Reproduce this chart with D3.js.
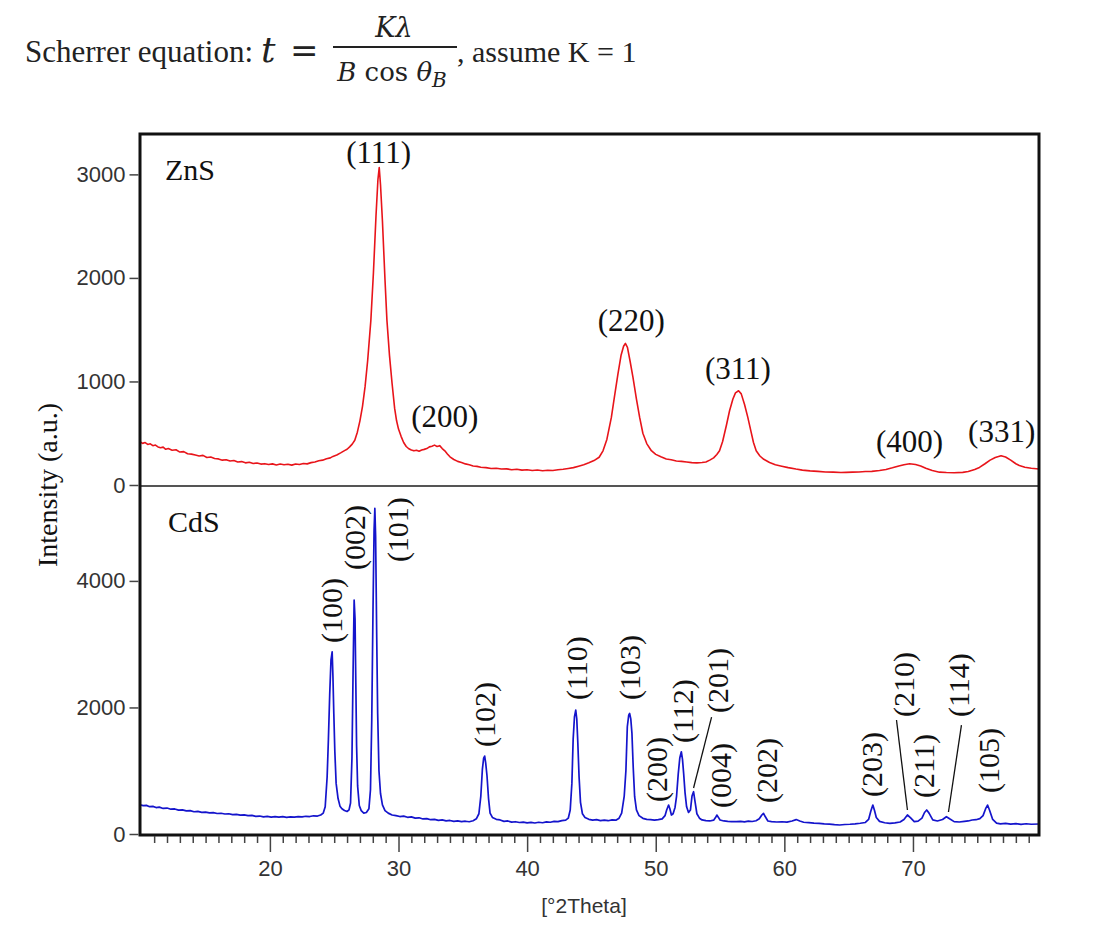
<!DOCTYPE html>
<html>
<head>
<meta charset="utf-8">
<script src="https://cdn.jsdelivr.net/npm/d3@7"></script>
<style>
  html, body { margin: 0; padding: 0; background: #fff; }
  svg { display: block; }
</style>
</head>
<body>
<svg id="chart" width="1104" height="932"></svg>
<script>
// ---------------- DATA ----------------
const xTicks = [20, 30, 40, 50, 60, 70];
const znsTicks = [0, 1000, 2000, 3000];
const cdsTicks = [0, 2000, 4000];

// ZnS pattern: [2theta, intensity]
const znsPattern = [[9.9,418],[10.1,402],[10.3,410],[10.5,392],[10.7,398],[10.9,380],[11.1,386],[11.3,368],[11.5,360],[11.7,366],[11.9,345],[12.1,352],[12.4,336],[12.7,340],[13.0,318],[13.3,322],[13.6,302],[13.9,298],[14.2,290],[14.5,280],[14.8,286],[15.1,266],[15.4,270],[15.7,256],[16.0,252],[16.3,240],[16.6,244],[16.9,232],[17.2,236],[17.5,222],[17.8,226],[18.1,214],[18.4,220],[18.7,208],[19.0,212],[19.3,202],[19.6,206],[19.9,198],[20.2,204],[20.5,194],[20.8,202],[21.1,196],[21.4,200],[21.7,192],[22.0,203],[22.3,198],[22.6,208],[22.9,204],[23.2,216],[23.5,222],[23.8,234],[24.1,240],[24.4,254],[24.7,262],[24.9,276],[25.2,290],[25.5,310],[25.8,332],[26.0,345],[26.2,368],[26.4,395],[26.6,432],[26.8,510],[27.0,620],[27.2,760],[27.4,950],[27.6,1200],[27.85,1590],[28.05,2050],[28.25,2600],[28.4,2950],[28.5,3066],[28.6,2900],[28.75,2550],[28.95,1980],[29.1,1590],[29.3,1250],[29.5,980],[29.7,740],[29.85,620],[30.0,540],[30.2,470],[30.4,410],[30.6,372],[30.8,350],[31.0,338],[31.2,330],[31.4,335],[31.6,326],[31.8,338],[32.0,344],[32.2,352],[32.4,368],[32.6,374],[32.8,385],[33.0,372],[33.2,380],[33.4,352],[33.6,330],[33.8,300],[34.0,272],[34.3,246],[34.6,228],[34.9,218],[35.2,204],[35.5,196],[35.8,184],[36.1,180],[36.4,172],[36.8,168],[37.2,160],[37.6,162],[38.0,154],[38.4,156],[38.8,148],[39.2,152],[39.6,144],[40.0,148],[40.4,140],[40.8,145],[41.2,138],[41.6,142],[42.0,140],[42.4,148],[42.8,152],[43.2,160],[43.6,168],[44.0,182],[44.4,196],[44.8,214],[45.2,236],[45.6,268],[45.9,330],[46.2,440],[46.55,653],[46.8,860],[47.06,1071],[47.3,1250],[47.5,1340],[47.64,1367],[47.8,1330],[48.0,1200],[48.23,1039],[48.5,830],[48.75,653],[49.0,500],[49.3,400],[49.66,331],[50.0,296],[50.4,272],[50.82,251],[51.2,244],[51.6,232],[52.0,228],[52.4,222],[52.8,216],[53.2,214],[53.6,218],[53.9,222],[54.2,240],[54.5,262],[54.75,295],[54.96,331],[55.2,420],[55.5,580],[55.74,717],[56.0,830],[56.2,890],[56.44,910],[56.65,880],[56.9,780],[57.16,653],[57.4,520],[57.6,410],[57.81,331],[58.1,280],[58.4,248],[58.85,218],[59.3,196],[59.8,182],[60.3,168],[60.9,154],[61.4,144],[62.0,136],[62.6,132],[63.2,126],[63.8,124],[64.4,120],[64.8,122],[65.3,124],[65.8,126],[66.3,130],[66.8,132],[67.4,140],[67.9,150],[68.4,166],[68.9,184],[69.3,196],[69.74,205],[70.2,198],[70.6,184],[71.0,162],[71.5,140],[72.06,124],[72.6,120],[73.2,118],[73.87,122],[74.3,130],[74.8,150],[75.17,170],[75.6,205],[76.0,240],[76.4,266],[76.85,283],[77.2,270],[77.6,240],[78.0,205],[78.27,188],[78.7,172],[79.2,162],[79.8,154]];

// CdS pattern: [2theta, intensity]
const cdsPattern = [[9.9,462],[10.15,448],[10.4,452],[10.65,432],[10.9,436],[11.15,418],[11.4,424],[11.7,404],[12.0,410],[12.3,392],[12.6,396],[12.9,378],[13.2,382],[13.5,366],[13.8,370],[14.1,352],[14.4,358],[14.7,342],[15.0,346],[15.3,334],[15.6,338],[15.9,324],[16.2,328],[16.5,316],[16.8,320],[17.1,306],[17.4,310],[17.7,298],[18.0,302],[18.3,290],[18.6,294],[18.9,278],[19.2,284],[19.5,270],[19.8,278],[20.1,268],[20.4,276],[20.7,266],[21.0,274],[21.3,264],[21.6,272],[21.9,266],[22.2,276],[22.5,270],[22.8,280],[23.1,276],[23.4,288],[23.7,284],[23.95,300],[24.15,330],[24.3,430],[24.45,900],[24.55,1500],[24.65,2200],[24.75,2750],[24.84,2880],[24.9,2500],[24.97,1900],[25.05,1300],[25.15,800],[25.3,560],[25.45,440],[25.6,400],[25.8,372],[26.0,356],[26.15,380],[26.27,490],[26.38,1200],[26.47,2600],[26.55,3697],[26.62,3400],[26.68,2400],[26.74,1400],[26.82,760],[26.95,450],[27.1,370],[27.3,330],[27.5,340],[27.7,400],[27.82,700],[27.92,1800],[28.02,3600],[28.1,4800],[28.16,5145],[28.22,4700],[28.3,3200],[28.38,1900],[28.48,1000],[28.6,640],[28.75,460],[28.95,370],[29.2,330],[29.5,300],[29.8,290],[30.1,276],[30.4,282],[30.7,264],[31.0,270],[31.3,250],[31.6,256],[31.9,238],[32.2,244],[32.5,226],[32.8,232],[33.1,216],[33.4,222],[33.7,208],[34.0,214],[34.3,200],[34.6,208],[34.9,196],[35.2,202],[35.5,194],[35.8,210],[36.05,240],[36.25,320],[36.4,600],[36.52,1020],[36.62,1200],[36.7,1232],[36.78,1120],[36.88,920],[37.0,560],[37.12,330],[37.3,262],[37.6,232],[37.9,222],[38.2,200],[38.5,206],[38.8,188],[39.1,194],[39.4,182],[39.7,188],[40.0,176],[40.3,184],[40.6,174],[40.9,186],[41.2,178],[41.5,192],[41.8,186],[42.1,200],[42.4,196],[42.7,212],[43.0,218],[43.2,250],[43.35,380],[43.48,800],[43.58,1500],[43.68,1850],[43.78,1959],[43.86,1820],[43.94,1450],[44.04,900],[44.15,500],[44.3,320],[44.5,260],[44.8,232],[45.1,220],[45.4,226],[45.7,212],[46.0,220],[46.3,210],[46.6,222],[46.9,218],[47.15,250],[47.35,330],[47.55,600],[47.68,1000],[47.79,1695],[47.9,1880],[47.97,1906],[48.06,1820],[48.15,1590],[48.25,1050],[48.36,590],[48.5,380],[48.7,290],[49.0,248],[49.3,232],[49.6,226],[49.9,218],[50.2,228],[50.5,240],[50.72,290],[50.85,380],[51.0,458],[51.1,400],[51.22,300],[51.35,320],[51.5,420],[51.62,600],[51.75,950],[51.87,1200],[51.99,1300],[52.08,1180],[52.17,958],[52.28,650],[52.4,430],[52.55,340],[52.7,380],[52.82,600],[52.94,668],[53.05,520],[53.2,320],[53.4,250],[53.6,222],[53.9,212],[54.2,206],[54.5,218],[54.65,260],[54.75,300],[54.85,270],[55.0,222],[55.3,206],[55.6,200],[55.9,196],[56.26,195],[56.6,200],[56.9,192],[57.2,204],[57.5,198],[57.8,210],[58.05,240],[58.25,300],[58.38,327],[58.5,280],[58.72,205],[59.0,196],[59.4,190],[59.8,194],[60.2,188],[60.6,205],[60.92,228],[61.2,206],[61.5,186],[61.9,180],[62.3,172],[62.7,169],[63.1,160],[63.5,156],[63.9,148],[64.3,142],[64.7,150],[65.1,154],[65.5,160],[65.9,170],[66.3,182],[66.55,230],[66.72,360],[66.88,458],[67.0,380],[67.15,260],[67.4,200],[67.8,178],[68.2,169],[68.6,176],[69.0,190],[69.3,230],[69.57,300],[69.8,260],[70.1,196],[70.4,204],[70.7,250],[70.9,340],[71.07,379],[71.25,330],[71.54,222],[71.9,206],[72.3,230],[72.6,273],[72.85,240],[73.2,196],[73.6,190],[74.0,200],[74.3,206],[74.6,221],[74.9,226],[75.2,242],[75.45,290],[75.65,400],[75.8,458],[75.95,380],[76.2,230],[76.5,172],[76.8,160],[77.2,168],[77.6,156],[78.0,164],[78.4,152],[78.8,162],[79.2,154],[79.8,158]];

// ZnS reflection labels: hkl, 2theta (centre), intensity (baseline of text)
const znsHkl   = ["(111)", "(200)", "(220)", "(311)", "(400)", "(331)"];
const znsHklT  = [28.45, 33.6, 48.1, 56.39, 69.73, 76.9];
const znsHklI  = [3111, 556, 1489, 1023, 315, 411];

// CdS reflection labels (vertical): hkl, 2theta (centre), intensity (start of text)
const cdsHkl  = ["(100)", "(002)", "(101)", "(102)", "(110)", "(103)", "(200)", "(112)", "(201)", "(004)", "(202)", "(203)", "(210)", "(211)", "(114)", "(105)"];
const cdsHklT = [24.82, 26.6, 29.95, 36.7, 43.85, 47.97, 50.07, 52.09, 54.81, 55.12, 58.62, 66.85, 69.34, 70.89, 73.61, 75.94];
const cdsHklI = [3017, 4171, 4297, 1374, 2117, 2117, 505, 1437, 1911, 411, 490, 585, 1848, 569, 1848, 648];

// leader lines from labels to peaks: [t1, i1, t2, i2]
const cdsLeaders = [[54.34, 1848, 52.94, 727], [68.72, 1801, 69.57, 379], [73.77, 1722, 72.76, 348]];

// ---------------- LAYOUT ----------------
const svg = d3.select("#chart");
const L = 140, R = 1039, T = 134, MID = 485, B = 834;
const serif = "'Liberation Serif','Times New Roman',serif";
const sans = "'Liberation Sans',Arial,sans-serif";

const x = d3.scaleLinear().domain([9.9, 79.8]).range([L, R]);
const yTop = d3.scaleLinear().domain([0, 3390]).range([MID, T]);
const yBot = d3.scaleLinear().domain([0, 5500]).range([B, MID + 1]);

const defs = svg.append("defs");
defs.append("clipPath").attr("id", "clipTop").append("rect")
  .attr("x", L).attr("y", T).attr("width", R - L).attr("height", MID - T);
defs.append("clipPath").attr("id", "clipBot").append("rect")
  .attr("x", L).attr("y", MID).attr("width", R - L).attr("height", B - MID);

// ---------------- TITLE ----------------
const title = svg.append("g");
title.append("text").attr("x", 25).attr("y", 62)
  .style("font-family", serif).style("font-size", "31px").attr("fill", "#222")
  .text("Scherrer equation:");
title.append("text").attr("x", 261).attr("y", 62)
  .style("font-family", "'DejaVu Serif',serif").style("font-style", "italic").style("font-size", "36px").attr("fill", "#222")
  .text("t");
title.append("text").attr("x", 290).attr("y", 62)
  .style("font-family", "'DejaVu Serif',serif").style("font-size", "34px").attr("fill", "#222")
  .text("=");
title.append("line").attr("x1", 333).attr("x2", 457).attr("y1", 47).attr("y2", 47)
  .attr("stroke", "#222").attr("stroke-width", 2);
title.append("text").attr("x", 394).attr("y", 37).attr("text-anchor", "middle")
  .style("font-family", "'DejaVu Serif',serif").style("font-style", "italic").style("font-size", "27px").attr("fill", "#222")
  .text("Kλ");
const den = title.append("text").attr("x", 392).attr("y", 81).attr("text-anchor", "middle")
  .style("font-family", "'DejaVu Serif',serif").style("font-size", "26px").attr("fill", "#222");
den.append("tspan").style("font-style", "italic").text("B");
den.append("tspan").text(" cos ");
den.append("tspan").style("font-style", "italic").text("θ");
den.append("tspan").style("font-style", "italic").style("font-size", "20px").attr("dy", 6).text("B");
title.append("text").attr("x", 457).attr("y", 62)
  .style("font-family", serif).style("font-size", "30px").attr("fill", "#222")
  .text(", assume K = 1");

// ---------------- DATA LINES ----------------
const lineTop = d3.line().x(d => x(d[0])).y(d => yTop(d[1]));
const lineBot = d3.line().x(d => x(d[0])).y(d => yBot(d[1]));

svg.append("path").datum(znsPattern).attr("clip-path", "url(#clipTop)")
  .attr("d", lineTop).attr("fill", "none").attr("stroke", "#e8141a").attr("stroke-width", 1.6)
  .attr("stroke-linejoin", "round");
svg.append("path").datum(cdsPattern).attr("clip-path", "url(#clipBot)")
  .attr("d", lineBot).attr("fill", "none").attr("stroke", "#1414cc").attr("stroke-width", 1.7)
  .attr("stroke-linejoin", "round");

// ---------------- FRAME ----------------
svg.append("line").attr("x1", L).attr("x2", R).attr("y1", MID + 1).attr("y2", MID + 1)
  .attr("stroke", "#555").attr("stroke-width", 2);
svg.append("rect").attr("x", L).attr("y", T).attr("width", R - L).attr("height", B + 1 - T)
  .attr("fill", "none").attr("stroke", "#111").attr("stroke-width", 3);

// ---------------- AXES ----------------
function styleAxis(g) {
  g.select(".domain").remove();
  g.selectAll(".tick line").attr("stroke", "#444").attr("stroke-width", 1.5);
  g.selectAll(".tick text").attr("fill", "#333").style("font-family", sans);
}
const gyTop = svg.append("g").attr("transform", `translate(${L - 1.5},0)`)
  .call(d3.axisLeft(yTop).tickValues(znsTicks).tickSize(9).tickPadding(4).tickFormat(d3.format("d")));
styleAxis(gyTop);
gyTop.selectAll(".tick text").style("font-size", "22px");

const gyBot = svg.append("g").attr("transform", `translate(${L - 1.5},0)`)
  .call(d3.axisLeft(yBot).tickValues(cdsTicks).tickSize(9).tickPadding(4).tickFormat(d3.format("d")));
styleAxis(gyBot);
gyBot.selectAll(".tick text").style("font-size", "22px");

const minorTicks = d3.range(11, 80).filter(v => !xTicks.includes(v));
const gxMinor = svg.append("g").attr("transform", `translate(0,${B + 2})`)
  .call(d3.axisBottom(x).tickValues(minorTicks).tickSize(7).tickFormat(""));
styleAxis(gxMinor);
const gxMajor = svg.append("g").attr("transform", `translate(0,${B + 2})`)
  .call(d3.axisBottom(x).tickValues(xTicks).tickSize(16).tickPadding(8).tickFormat(d3.format("d")));
styleAxis(gxMajor);
gxMajor.selectAll(".tick text").style("font-size", "22px");

// axis titles
svg.append("text").attr("x", 584).attr("y", 913).attr("text-anchor", "middle")
  .style("font-family", sans).style("font-size", "21px").attr("fill", "#333")
  .text("[°2Theta]");
svg.append("text").attr("transform", `translate(57,485) rotate(-90)`).attr("text-anchor", "middle")
  .style("font-family", serif).style("font-size", "28px").attr("fill", "#111")
  .text("Intensity (a.u.)");

// panel labels
svg.append("text").attr("x", L + 25).attr("y", T + 46)
  .style("font-family", serif).style("font-size", "30px").attr("fill", "#111").text("ZnS");
svg.append("text").attr("x", L + 28).attr("y", MID + 47)
  .style("font-family", serif).style("font-size", "30px").attr("fill", "#111").text("CdS");

// ---------------- PEAK LABELS ----------------
svg.append("g").selectAll("text").data(znsHkl).join("text")
  .attr("x", (d, i) => x(znsHklT[i])).attr("y", (d, i) => yTop(znsHklI[i]))
  .attr("text-anchor", "middle")
  .style("font-family", serif).style("font-size", "31px").attr("fill", "#111")
  .text(d => d);

svg.append("g").selectAll("text").data(cdsHkl).join("text")
  .attr("transform", (d, i) => `translate(${x(cdsHklT[i])},${yBot(cdsHklI[i])}) rotate(-90)`)
  .attr("dy", "0.33em")
  .style("font-family", serif).style("font-size", "30px").attr("fill", "#111")
  .text(d => d);

svg.append("g").selectAll("line").data(cdsLeaders).join("line")
  .attr("x1", d => x(d[0])).attr("y1", d => yBot(d[1]))
  .attr("x2", d => x(d[2])).attr("y2", d => yBot(d[3]))
  .attr("stroke", "#111").attr("stroke-width", 1.3);
</script>
</body>
</html>
